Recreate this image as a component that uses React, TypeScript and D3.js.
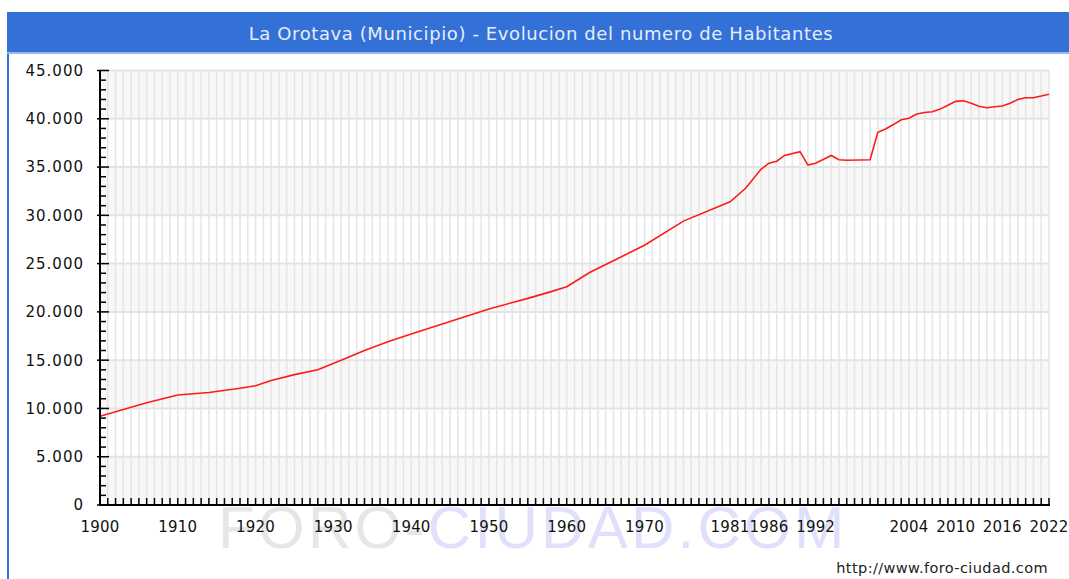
import React from 'react'
import * as d3 from 'd3'

const width = 1069
const height = 579

// population (year, habitantes)
const years = [1900, 1903, 1906, 1910, 1914, 1918, 1920, 1922, 1925, 1928, 1931, 1934, 1937, 1940,
  1945, 1950, 1955, 1958, 1960, 1963, 1966, 1970, 1975, 1981, 1983, 1985, 1986, 1987, 1988, 1990,
  1991, 1992, 1994, 1995, 1996, 1999, 2000, 2001, 2002, 2003, 2004, 2005, 2006, 2007, 2008, 2009,
  2010, 2011, 2012, 2013, 2014, 2015, 2016, 2017, 2018, 2019, 2020, 2021, 2022]
const habitantes = [9200, 9900, 10600, 11400, 11650, 12100, 12350, 12900, 13500, 14000, 15000, 16000, 16900, 17700,
  19000, 20300, 21400, 22100, 22600, 24100, 25300, 26900, 29400, 31400, 32800, 34800, 35400, 35600, 36200, 36600,
  35200, 35400, 36200, 35750, 35700, 35750, 38600, 38950, 39400, 39900, 40050, 40500, 40650, 40730, 41000, 41400,
  41800, 41870, 41600, 41300, 41150, 41250, 41320, 41600, 42000, 42180, 42180, 42350, 42550]

const xTickYears = [1900, 1910, 1920, 1930, 1940, 1950, 1960, 1970, 1981, 1986, 1992, 2004, 2010, 2016, 2022]
const yTicks = [0, 5000, 10000, 15000, 20000, 25000, 30000, 35000, 40000, 45000]

const title = 'La Orotava (Municipio) - Evolucion del numero de Habitantes'

const margin = {left: 100, right: 1049, top: 70.5, bottom: 505}

export default function App() {
  const x = d3.scaleLinear().domain([1900, 2022]).range([margin.left, margin.right])
  const y = d3.scaleLinear().domain([0, 45000]).range([margin.bottom, margin.top])
  const fmt = (v: number) => d3.format(',')(v).replace(/,/g, '.')

  const line = d3.line<number>()
    .x((d, i) => x(years[i]))
    .y(d => y(d))

  const allYears = d3.range(1900, 2023)
  const minor = d3.range(0, 45001, 1000)

  return (
    <svg width={width} height={height} style={{position: 'absolute', left: 0, top: 0}}
      fontFamily="'DejaVu Sans', Verdana, sans-serif">
      <rect x={0} y={0} width={width} height={height} fill="#fff" />
      {/* frame + title bar */}
      <rect x={7} y={12} width={2} height={height - 12} fill="#3371d7" />
      <rect x={7} y={12} width={width - 7} height={40} fill="#3371d7" />
      <rect x={7} y={52} width={width - 7} height={2} fill="#9ab8ec" />
      <text x={541} y={40} textAnchor="middle" fill="#e6edf8" fontSize={18} letterSpacing={0.6}>{title}</text>

      {/* watermark */}
      <text x={218} y={548} fontFamily="'Liberation Sans', Arial, sans-serif" fontSize={60}
        letterSpacing={3.3}>
        <tspan fill="#e6e6e6">FORO-</tspan>
        <tspan fill="#e0e0fb">CIUDAD.COM</tspan>
      </text>

      {/* bands */}
      {yTicks.slice(0, -1).map((t, i) => (
        <rect key={t} x={margin.left} y={y(t + 5000)} width={margin.right - margin.left}
          height={y(t) - y(t + 5000)} fill={i % 2 === 0 ? '#f8f8f8' : '#ffffff'} />
      ))}
      {/* grid */}
      {allYears.map(yr => (
        <line key={yr} x1={x(yr)} x2={x(yr)} y1={margin.top} y2={margin.bottom}
          stroke="#e6e6e6" strokeWidth={1.6} />
      ))}
      {yTicks.map(t => (
        <line key={t} x1={margin.left} x2={margin.right} y1={y(t)} y2={y(t)}
          stroke="#e4e4e4" strokeWidth={2} />
      ))}

      {/* line */}
      <path d={line(habitantes) || ''} fill="none" stroke="#ff1a1a" strokeWidth={1.6} />

      {/* axes */}
      <line x1={margin.left} x2={margin.left} y1={margin.top} y2={margin.bottom + 1} stroke="#000" strokeWidth={2} />
      <line x1={margin.left} x2={margin.right + 1} y1={margin.bottom} y2={margin.bottom} stroke="#000" strokeWidth={2} />
      {minor.map(t => (
        <line key={t} x1={t % 5000 === 0 ? margin.left - 3 : margin.left} x2={margin.left + (t % 5000 === 0 ? 9 : 6)}
          y1={y(t)} y2={y(t)} stroke="#000" strokeWidth={1.5} />
      ))}
      {allYears.map(yr => (
        <line key={yr} x1={x(yr)} x2={x(yr)} y1={margin.bottom} y2={margin.bottom - 7}
          stroke="#000" strokeWidth={1.5} />
      ))}
      {yTicks.map(t => (
        <text key={t} x={84} y={y(t)} dy="0.36em" textAnchor="end" fontSize={15} letterSpacing={1}
          fill="#111">{fmt(t)}</text>
      ))}
      {xTickYears.map(yr => (
        <text key={yr} x={x(yr)} y={532} textAnchor="middle" fontSize={15} letterSpacing={0.2}
          fill="#111">{yr}</text>
      ))}

      <text x={1048} y={573} textAnchor="end" fontSize={14.5} letterSpacing={0.4} fill="#222">http://www.foro-ciudad.com</text>
    </svg>
  )
}
